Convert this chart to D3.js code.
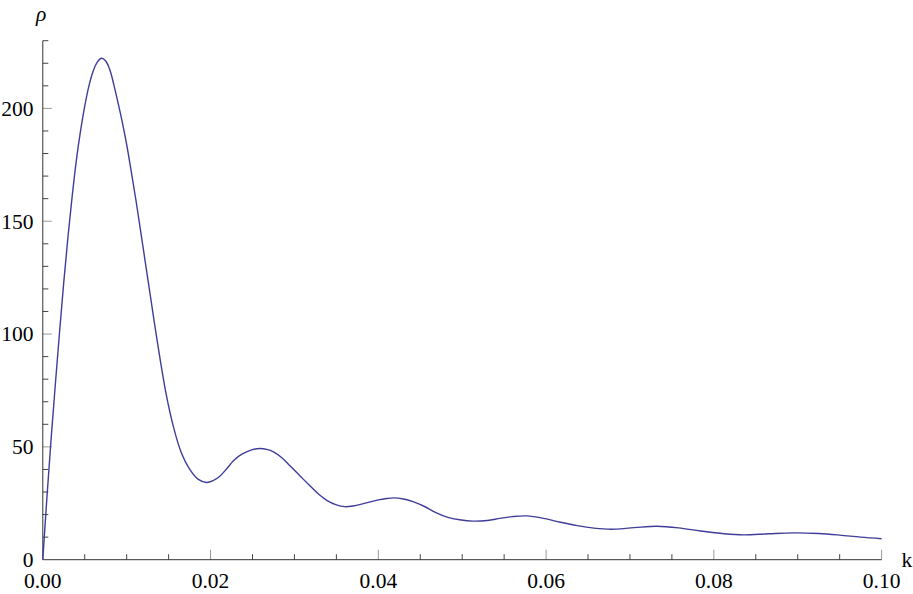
<!DOCTYPE html>
<html>
<head>
<meta charset="utf-8">
<script src="https://cdn.jsdelivr.net/npm/d3@7"></script>
<style>
  html, body { margin: 0; padding: 0; background: #fff; }
  svg { display: block; }
  text { font-family: "Liberation Serif", "Times New Roman", serif; fill: #000; }
</style>
</head>
<body>
<svg id="chart" width="913" height="594"></svg>
<script>
// ---- data ----
const kValues = [0, 0.0005, 0.001, 0.0015, 0.002, 0.0025, 0.003, 0.0035, 0.004, 0.0045,
  0.005, 0.0055, 0.006, 0.0065, 0.007, 0.0075, 0.008, 0.0085, 0.009, 0.0095,
  0.01, 0.0105, 0.0111, 0.0120, 0.0129, 0.0137, 0.0147, 0.0156, 0.0165, 0.0175,
  0.0185, 0.0195, 0.0203, 0.0211, 0.0219, 0.0227, 0.0235, 0.0243, 0.0251, 0.0259,
  0.0267, 0.0275, 0.0285, 0.0295, 0.0307, 0.0319, 0.0329, 0.0339, 0.035, 0.036,
  0.037, 0.038, 0.039, 0.040, 0.041, 0.0418, 0.043, 0.0442, 0.0454, 0.0468,
  0.0482, 0.0497, 0.0513, 0.053, 0.0545, 0.056, 0.0577, 0.0597, 0.0617, 0.0637,
  0.0657, 0.0677, 0.0705, 0.0732, 0.0758, 0.0784, 0.081, 0.0835, 0.0865, 0.0895,
  0.0925, 0.095, 0.0975, 0.1];
const rhoValues = [0, 28, 54, 78, 101, 123, 143, 161, 177, 190,
  201, 210, 216.5, 220.5, 222.2, 221, 217, 210, 202, 193.5,
  184, 173, 159.4, 137.3, 115, 95.5, 73.5, 58.5, 47.5, 40.1,
  35.7, 34.2, 35.0, 37.0, 40.2, 43.7, 46.2, 47.8, 48.9, 49.3,
  48.9, 47.8, 45.2, 41.5, 37.0, 32.6, 29.0, 26.2, 24.3, 23.5,
  23.8, 24.6, 25.6, 26.5, 27.1, 27.4, 26.9, 25.6, 23.8, 21.0,
  18.9, 17.7, 17.1, 17.4, 18.3, 19.1, 19.4, 18.3, 16.6, 15.1,
  14.0, 13.5, 14.2, 14.8, 14.1, 12.7, 11.6, 11.0, 11.5, 11.9,
  11.6, 10.9, 10.0, 9.3];

const xTickValues = [0, 0.02, 0.04, 0.06, 0.08, 0.10];
const xTickLabels = ["0.00", "0.02", "0.04", "0.06", "0.08", "0.10"];
const yTickValues = [0, 50, 100, 150, 200];
const yTickLabels = ["0", "50", "100", "150", "200"];
const xMinorStep = 0.005;
const yMinorStep = 10;
const xDomain = [0, 0.1];
const yDomain = [0, 230];
const xAxisLabel = "k";
const yAxisLabel = "ρ";

// ---- layout ----
const svg = d3.select("#chart");
const x = d3.scaleLinear().domain(xDomain).range([42.8, 881.6]);
const y = d3.scaleLinear().domain(yDomain).range([559.7, 40.7]);

const axisColor = "#333";
const majorColor = "#999";
const minorColor = "#444";
const fontSize = 21.5;

const g = svg.append("g");

// minor ticks (inside)
const xMinor = d3.range(0, 0.1 + 1e-9, xMinorStep).filter(v => !xTickValues.some(t => Math.abs(t - v) < 1e-9));
const yMinor = d3.range(0, 230 + 1e-9, yMinorStep).filter(v => !yTickValues.some(t => Math.abs(t - v) < 1e-9));

g.selectAll(".xminor").data(xMinor).enter().append("line")
  .attr("x1", d => x(d)).attr("x2", d => x(d))
  .attr("y1", y(0)).attr("y2", y(0) - 5.5)
  .attr("stroke", minorColor).attr("stroke-width", 1);
g.selectAll(".xmajor").data(xTickValues.filter(v => v > 0)).enter().append("line")
  .attr("x1", d => x(d)).attr("x2", d => x(d))
  .attr("y1", y(0)).attr("y2", y(0) - 10)
  .attr("stroke", majorColor).attr("stroke-width", 1);

g.selectAll(".yminor").data(yMinor).enter().append("line")
  .attr("x1", x(0)).attr("x2", x(0) + 5.5)
  .attr("y1", d => y(d)).attr("y2", d => y(d))
  .attr("stroke", minorColor).attr("stroke-width", 1);
g.selectAll(".ymajor").data(yTickValues.filter(v => v > 0)).enter().append("line")
  .attr("x1", x(0)).attr("x2", x(0) + 9)
  .attr("y1", d => y(d)).attr("y2", d => y(d))
  .attr("stroke", majorColor).attr("stroke-width", 1);

// axis lines
g.append("line").attr("x1", x(0)).attr("x2", x(0.1)).attr("y1", y(0)).attr("y2", y(0))
  .attr("stroke", axisColor).attr("stroke-width", 1);
g.append("line").attr("x1", x(0)).attr("x2", x(0)).attr("y1", y(0)).attr("y2", y(230))
  .attr("stroke", axisColor).attr("stroke-width", 1);

// tick labels
g.selectAll(".xlab").data(xTickValues).enter().append("text")
  .attr("x", d => x(d)).attr("y", 588)
  .attr("text-anchor", "middle").attr("font-size", fontSize)
  .text((d, i) => xTickLabels[i]);
g.selectAll(".ylab").data(yTickValues).enter().append("text")
  .attr("x", 33.5).attr("y", d => y(d))
  .attr("dy", "0.34em")
  .attr("text-anchor", "end").attr("font-size", fontSize)
  .text((d, i) => yTickLabels[i]);

// axis labels
g.append("text").attr("x", 901.5).attr("y", 567).attr("font-size", fontSize).text(xAxisLabel);
g.append("text").attr("x", 36).attr("y", 21).attr("font-size", fontSize)
  .attr("font-style", "italic").text(yAxisLabel);

// curve
const data = kValues.map((k, i) => ({k, v: rhoValues[i]}));
const line = d3.line().x(d => x(d.k)).y(d => y(d.v)).curve(d3.curveCatmullRom.alpha(0.5));
g.append("path").datum(data)
  .attr("d", line)
  .attr("fill", "none")
  .attr("stroke", "#3f3d99")
  .attr("stroke-width", 1.4)
  .attr("stroke-linejoin", "round");
</script>
</body>
</html>
